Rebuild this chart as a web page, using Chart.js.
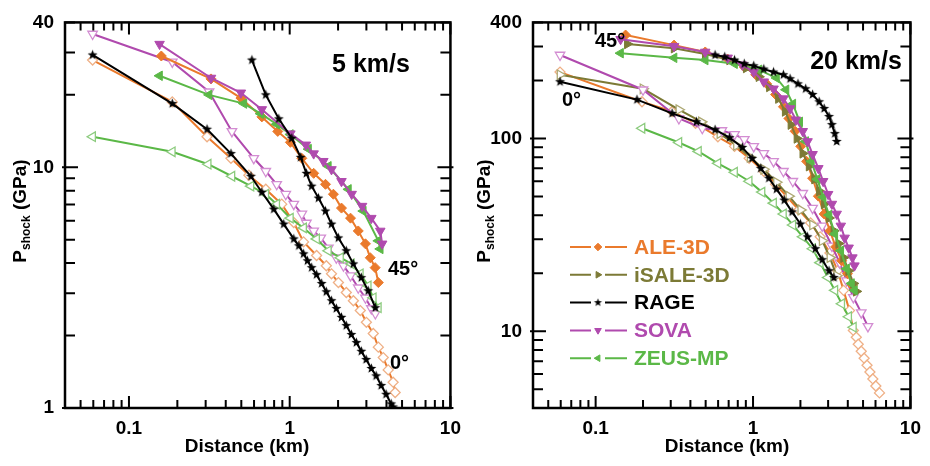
<!DOCTYPE html>
<html>
<head>
<meta charset="utf-8">
<script src="https://cdn.jsdelivr.net/npm/chart.js@4.4.1/dist/chart.umd.min.js"></script>
<style>
  html, body { margin: 0; padding: 0; background: #fff; }
  #wrap { position: relative; width: 930px; height: 466px; }
  #left { position: absolute; left: 0; top: 0; }
  #right { position: absolute; left: 470px; top: 0; }
</style>
</head>
<body>
<div id="wrap">
  <canvas id="left" width="470" height="466"></canvas>
  <canvas id="right" width="460" height="466"></canvas>
</div>
<script>
// ---- 5 km/s panel (distance km, pressure GPa) ----
const v5_ale45_x = [0.159, 0.324, 0.497, 0.671, 0.843, 1.01, 1.19, 1.41, 1.67, 1.87, 2.10, 2.39, 2.67, 2.96, 3.17, 3.40, 3.56];
const v5_ale45_y = [29.0, 23.3, 19.4, 16.2, 14.1, 12.7, 10.9, 9.44, 8.5, 7.73, 6.77, 6.15, 5.44, 4.81, 4.21, 3.83, 3.32];
const v5_rage45_x = [0.582, 0.71, 0.855, 1.03, 1.17, 1.27, 1.37, 1.51, 1.67, 1.82, 2.01, 2.25, 2.49, 2.79, 3.08, 3.41];
const v5_rage45_y = [27.9, 20.0, 15.9, 13.2, 11.0, 9.44, 8.35, 7.45, 6.58, 5.81, 5.09, 4.50, 3.97, 3.48, 3.07, 2.61];
const v5_sova45_x = [0.155, 0.324, 0.497, 0.671, 1.01, 1.26, 1.41, 1.62, 1.82, 2.10, 2.43, 2.82, 3.22, 3.66, 3.76];
const v5_sova45_y = [32.5, 23.5, 20.4, 17.4, 13.8, 12.4, 11.4, 10.6, 9.8, 8.75, 7.74, 6.9, 6.15, 5.44, 4.81];
const v5_zeus45_x = [0.155, 0.315, 0.519, 0.66, 0.83, 1.01, 1.31, 1.74, 2.32, 2.87, 3.56, 3.66];
const v5_zeus45_y = [24.0, 20.0, 18.4, 16.7, 15.1, 13.7, 11.9, 10.1, 8.1, 6.58, 4.95, 4.58];

const v5_ale0_x = [0.0594, 0.186, 0.306, 0.431, 0.557, 0.71, 0.892, 1.06, 1.22, 1.47, 1.69, 1.82, 2.01, 2.25, 2.49, 2.75, 3.0, 3.31, 3.56, 3.82, 4.10, 4.40, 4.53];
const v5_ale0_y = [27.9, 18.7, 13.4, 10.9, 9.27, 8.11, 7.03, 5.9, 4.9, 4.3, 3.9, 3.61, 3.32, 3.02, 2.79, 2.54, 2.27, 2.04, 1.79, 1.62, 1.44, 1.28, 1.16];
const v5_rage0_x = [0.0594, 0.186, 0.306, 0.431, 0.574, 0.671, 0.796, 0.918, 1.06, 1.14, 1.22, 1.29, 1.37, 1.47, 1.58, 1.69, 1.82, 1.95, 2.10, 2.25, 2.42, 2.60, 2.79, 2.99, 3.22, 3.45, 3.71, 3.98, 4.28, 4.4];
const v5_rage0_y = [29.3, 18.4, 14.4, 11.4, 9.18, 7.88, 6.7, 5.81, 5.04, 4.72, 4.37, 4.09, 3.83, 3.58, 3.29, 3.04, 2.79, 2.59, 2.38, 2.2, 2.02, 1.87, 1.72, 1.59, 1.46, 1.36, 1.24, 1.14, 1.04, 1.01];
const v5_sova0_x = [0.0594, 0.186, 0.315, 0.437, 0.598, 0.71, 0.83, 0.945, 1.06, 1.19, 1.27, 1.41, 1.56, 1.74, 1.95, 2.16, 2.39, 2.67, 2.96, 3.22, 3.41];
const v5_sova0_y = [35.8, 27.4, 20.6, 14.1, 10.9, 9.63, 8.5, 7.73, 7.03, 6.4, 5.87, 5.44, 5.09, 4.63, 4.21, 3.90, 3.55, 3.16, 2.87, 2.59, 2.47];
const v5_zeus0_x = [0.0594, 0.186, 0.311, 0.437, 0.574, 0.71, 0.83, 1.01, 1.22, 1.47, 1.74, 2.07, 2.42, 2.75, 3.08, 3.31, 3.56];
const v5_zeus0_y = [13.4, 11.6, 10.3, 9.18, 8.35, 7.73, 7.03, 6.15, 5.6, 5.04, 4.5, 4.21, 3.97, 3.61, 3.22, 2.87, 2.61];

// ---- 20 km/s panel ----
const v20_ale45_x = [0.155, 0.315, 0.497, 0.69, 0.88, 1.04, 1.22, 1.39, 1.56, 1.69, 1.85, 2.01, 2.19, 2.39, 2.60, 2.83, 3.08, 3.35, 3.66, 3.98, 4.28];
const v20_ale45_y = [344, 305, 281, 258, 235, 214, 192, 169, 146, 127, 109, 91, 76.1, 62.2, 50.2, 40.6, 33.2, 27.4, 23.2, 19.9, 17.3];
const v20_isale45_x = [0.159, 0.315, 0.497, 0.71, 0.905, 1.09, 1.27, 1.45, 1.6, 1.74, 1.90, 2.07, 2.27, 2.46, 2.64, 2.83, 3.04, 3.26, 3.50, 3.76, 4.05, 4.34, 4.53];
const v20_isale45_y = [309, 294, 274, 255, 232, 209, 185, 161, 138, 118, 100, 83.7, 71.8, 61.5, 53.3, 45.7, 38.7, 33.2, 28.5, 24.1, 20.6, 17.7, 16.1];
const v20_rage45_x = [0.574, 0.661, 0.763, 0.88, 1.01, 1.17, 1.35, 1.56, 1.72, 1.93, 2.16, 2.39, 2.63, 2.83, 3.04, 3.17, 3.31, 3.40];
const v20_rage45_y = [271, 265, 255, 244, 238, 229, 221, 214, 204, 192, 181, 169, 155, 143, 130, 118, 106, 96.5];
const v20_sova45_x = [0.144, 0.315, 0.497, 0.69, 0.855, 1.01, 1.17, 1.35, 1.56, 1.72, 1.87, 2.07, 2.22, 2.39, 2.60, 2.79, 3.00, 3.17, 3.40, 3.61, 3.82, 4.05, 4.28, 4.41];
const v20_sova45_y = [327, 301, 281, 262, 241, 221, 197, 181, 161, 143, 125, 109, 96.5, 82.8, 70.0, 60.0, 51.4, 45.7, 40.6, 35.2, 30.5, 27.1, 24.1, 21.9];
const v20_zeus45_x = [0.144, 0.315, 0.497, 0.763, 1.09, 1.41, 1.62, 1.79, 1.98, 2.16, 2.35, 2.56, 2.79, 3.04, 3.31, 3.61, 3.93, 4.22, 4.41];
const v20_zeus45_y = [277, 262, 255, 244, 227, 206, 179, 151, 122, 96.5, 76.1, 61.5, 49.6, 40.1, 32.0, 26.2, 21.1, 17.7, 16.3];

const v20_ale0_x = [0.0594, 0.197, 0.306, 0.431, 0.598, 0.763, 0.945, 1.17, 1.39, 1.65, 1.95, 2.32, 2.67, 3.08, 3.45, 3.76, 4.1, 4.34, 4.53, 4.66, 4.87, 5.08, 5.30, 5.53, 5.77, 6.03, 6.36];
const v20_ale0_y = [221, 155, 138, 120, 102, 91, 78.9, 67.6, 57.9, 49.6, 42.6, 36.5, 30.9, 25.5, 20.6, 16.3, 12.8, 10.1, 9.31, 8.57, 7.88, 7.25, 6.67, 6.15, 5.66, 5.2, 4.79];
const v20_isale0_x = [0.0594, 0.2, 0.338, 0.47, 0.616, 0.785, 0.958, 1.17, 1.41, 1.69, 2.01, 2.39, 2.75, 3.08, 3.40];
const v20_isale0_y = [214, 181, 141, 122, 106, 92, 79.8, 69.2, 59.3, 50.2, 42.6, 35.6, 29.5, 24.1, 19.4];
const v20_rage0_x = [0.0594, 0.183, 0.306, 0.437, 0.574, 0.71, 0.855, 0.986, 1.12, 1.26, 1.41, 1.58, 1.77, 2.0, 2.22, 2.49, 2.75, 3.04, 3.26];
const v20_rage0_y = [197, 159, 135, 122, 111, 101, 89.9, 78.9, 70, 62.2, 54.6, 47.9, 41.6, 36.0, 30.9, 26.8, 23.5, 20.6, 19.0];
const v20_sova0_x = [0.0594, 0.2, 0.338, 0.476, 0.634, 0.763, 0.88, 1.01, 1.17, 1.35, 1.56, 1.79, 2.07, 2.39, 2.75, 3.17, 3.55, 3.93, 4.34, 4.87, 5.37];
const v20_sova0_y = [271, 179, 127, 113, 110, 105, 98.9, 91, 83.7, 76.1, 67.6, 60, 52.0, 43.5, 35.2, 27.7, 22.7, 18.3, 15.0, 12.5, 10.6];
const v20_zeus0_x = [0.197, 0.338, 0.45, 0.598, 0.763, 0.945, 1.14, 1.35, 1.56, 1.79, 2.07, 2.39, 2.67, 2.99, 3.31, 3.66, 4.05, 4.34];
const v20_zeus0_y = [113, 95.3, 85.7, 74.3, 66.8, 60, 52.7, 46.2, 40.6, 35.6, 30.9, 26.8, 22.7, 19.0, 16.3, 13.9, 11.9, 10.5];

// axis labels
const xTickLabels = [0.1, 1, 10];
const yTickLabels5 = [1, 10, 40];
const yTickLabels20 = [10, 100, 400];
const codeNames = ['ALE-3D', 'iSALE-3D', 'RAGE', 'SOVA', 'ZEUS-MP'];

// ---- styles ----
const FONT = '"Liberation Sans", Arial, Helvetica, sans-serif';
const ORANGE = '#EA7A2C', ORANGE_LT = '#EFB086';
const OLIVE = '#7C7A36', OLIVE_LT = '#ADA974';
const MAGENTA = '#B04AAE', MAGENTA_LT = '#D38DD2';
const GREEN = '#5BB847', GREEN_LT = '#8CCB7E';
const BLACK = '#000';

Chart.defaults.font.family = FONT;
Chart.defaults.animation = false;

// 5-point star marker (RAGE)
function starImage(r) {
    const s = Math.ceil(r * 2 + 2);
    const c = document.createElement('canvas');
    c.width = s; c.height = s;
    const g = c.getContext('2d');
    g.fillStyle = BLACK;
    g.beginPath();
    for (let i = 0; i < 10; i++) {
        const a = -Math.PI / 2 + i * Math.PI / 5;
        const rr = i % 2 ? r * 0.42 : r;
        g.lineTo(s / 2 + rr * Math.cos(a), s / 2 + rr * Math.sin(a));
    }
    g.closePath();
    g.fill();
    return c;
}
const STAR = starImage(5.2);
const STAR_SMALL = starImage(4.2);

const MARK = {
    ale: { pointStyle: 'rectRot', pointRotation: 0, pointRadius: 5 },
    isale: { pointStyle: 'triangle', pointRotation: 90, pointRadius: 5.5 },
    rage: { pointStyle: STAR, pointRotation: 0, pointRadius: 5 },
    sova: { pointStyle: 'triangle', pointRotation: 180, pointRadius: 5.5 },
    zeus: { pointStyle: 'triangle', pointRotation: 270, pointRadius: 5.5 }
};

function series(xs, ys, mark, color, light) {
    const hollow = !!light;
    return Object.assign({
        data: xs.map((x, i) => ({ x: x, y: ys[i] })),
        showLine: true,
        tension: 0,
        borderWidth: 2,
        borderColor: color,
        pointBackgroundColor: hollow ? '#fff' : color,
        pointBorderColor: hollow ? light : color,
        pointBorderWidth: hollow ? 1.3 : 1
    }, MARK[mark]);
}

function tickValues(min, max) {
    const out = [];
    for (let e = Math.floor(Math.log10(min)); e <= Math.ceil(Math.log10(max)); e++) {
        for (let m = 1; m <= 9; m++) {
            const v = Number((m * Math.pow(10, e)).toPrecision(6));
            if (v >= min * 0.999 && v <= max * 1.001) out.push({ v: v, major: m === 1 });
        }
    }
    return out;
}

function pickLabel(list) {
    return (v) => {
        const hit = list.find(t => Math.abs(t - v) < t * 1e-6);
        return hit === undefined ? '' : String(hit);
    };
}

// frame, inward ticks, titles, annotations, legend
const decor = {
    id: 'decor',
    afterDraw(chart, args, o) {
        const { ctx, chartArea: a, scales: { x, y } } = chart;
        ctx.save();
        ctx.strokeStyle = BLACK;
        ctx.lineWidth = 2;
        ctx.beginPath();
        tickValues(x.min, x.max).forEach(t => {
            const px = x.getPixelForValue(t.v);
            const len = t.major ? 12 : 8;
            ctx.moveTo(px, a.bottom); ctx.lineTo(px, a.bottom - len);
            ctx.moveTo(px, a.top); ctx.lineTo(px, a.top + len);
        });
        tickValues(y.min, y.max).forEach(t => {
            const py = y.getPixelForValue(t.v);
            const len = t.major ? 13 : 10;
            const out = t.major ? 3 : 0;
            ctx.moveTo(a.left - out, py); ctx.lineTo(a.left + len, py);
            ctx.moveTo(a.right + out, py); ctx.lineTo(a.right - len, py);
        });
        ctx.stroke();
        ctx.lineWidth = 2.5;
        ctx.strokeRect(a.left, a.top, a.right - a.left, a.bottom - a.top);

        ctx.fillStyle = BLACK;
        // x title
        ctx.font = 'bold 19px ' + FONT;
        ctx.textAlign = 'center';
        ctx.textBaseline = 'middle';
        ctx.fillText('Distance (km)', o.xTitleX, 447);

        // y title with subscript
        ctx.save();
        ctx.translate(o.yTitleX, 211);
        ctx.rotate(-Math.PI / 2);
        ctx.textAlign = 'left';
        ctx.textBaseline = 'alphabetic';
        const big = 'bold 19px ' + FONT, small = 'bold 12px ' + FONT;
        ctx.font = big; const wP = ctx.measureText('P').width; const wG = ctx.measureText(' (GPa)').width;
        ctx.font = small; const wS = ctx.measureText('shock').width;
        let sx = -(wP + wS + wG) / 2;
        ctx.font = big; ctx.fillText('P', sx, 7);
        ctx.font = small; ctx.fillText('shock', sx + wP, 11);
        ctx.font = big; ctx.fillText(' (GPa)', sx + wP + wS, 7);
        ctx.restore();

        // speed label
        ctx.font = 'bold 25px ' + FONT;
        ctx.textAlign = 'center';
        ctx.textBaseline = 'middle';
        ctx.fillText(o.speed, o.speedX, o.speedY);

        // impact angle labels
        ctx.font = 'bold 20px ' + FONT;
        ctx.textAlign = 'left';
        o.angles.forEach(l => ctx.fillText(l.text, l.x, l.y));

        // legend
        if (o.legend) {
            const rows = [
                { color: ORANGE, mark: MARK.ale },
                { color: OLIVE, mark: MARK.isale },
                { color: BLACK, mark: MARK.rage },
                { color: MAGENTA, mark: MARK.sova },
                { color: GREEN, mark: MARK.zeus }
            ];
            rows.forEach((r, i) => {
                const ly = 247 + i * 27.8;
                ctx.strokeStyle = r.color;
                ctx.lineWidth = 2;
                ctx.beginPath();
                ctx.moveTo(100, ly); ctx.lineTo(121, ly);
                ctx.moveTo(135, ly); ctx.lineTo(157, ly);
                ctx.stroke();
                ctx.fillStyle = r.color;
                ctx.lineWidth = 1;
                if (r.mark.pointStyle === STAR) {
                    ctx.drawImage(STAR_SMALL, 128 - STAR_SMALL.width / 2, ly - STAR_SMALL.height / 2);
                } else {
                    Chart.helpers.drawPoint(ctx, {
                        pointStyle: r.mark.pointStyle,
                        rotation: r.mark.pointRotation,
                        radius: 3.8,
                        borderWidth: 1
                    }, 128, ly);
                }
                ctx.font = 'bold 21px ' + FONT;
                ctx.textBaseline = 'middle';
                ctx.fillText(codeNames[i], 164, ly + 1);
            });
        }
        ctx.restore();
    }
};

function makeChart(id, datasets, yMin, yMax, yLabels, rightPad, decorOpts) {
    return new Chart(document.getElementById(id), {
        type: 'scatter',
        data: { datasets: datasets },
        options: {
            responsive: false,
            animation: false,
            layout: { padding: { left: 0, right: rightPad, top: 20, bottom: 0 } },
            plugins: { legend: { display: false }, tooltip: { enabled: false }, decor: decorOpts },
            scales: {
                x: {
                    type: 'logarithmic', min: 0.04, max: 10,
                    grid: { display: false, drawTicks: false }, border: { display: false },
                    ticks: {
                        autoSkip: false, maxRotation: 0, padding: 9, color: BLACK,
                        font: { size: 19, weight: 'bold' }, callback: pickLabel(xTickLabels)
                    },
                    afterFit: s => { s.height = 58; }
                },
                y: {
                    type: 'logarithmic', min: yMin, max: yMax,
                    grid: { display: false, drawTicks: false }, border: { display: false },
                    ticks: {
                        autoSkip: false, padding: 11, color: BLACK,
                        font: { size: 19, weight: 'bold' }, callback: pickLabel(yLabels)
                    },
                    afterFit: s => { s.width = decorOpts.axisLeft; }
                }
            }
        },
        plugins: [decor]
    });
}

makeChart('left', [
    series(v5_rage45_x, v5_rage45_y, 'rage', BLACK),
    series(v5_sova45_x, v5_sova45_y, 'sova', MAGENTA),
    series(v5_zeus45_x, v5_zeus45_y, 'zeus', GREEN),
    series(v5_ale45_x, v5_ale45_y, 'ale', ORANGE),
    series(v5_rage0_x, v5_rage0_y, 'rage', BLACK),
    series(v5_zeus0_x, v5_zeus0_y, 'zeus', GREEN, GREEN_LT),
    series(v5_sova0_x, v5_sova0_y, 'sova', MAGENTA, MAGENTA_LT),
    series(v5_ale0_x, v5_ale0_y, 'ale', ORANGE, ORANGE_LT)
], 1, 40, yTickLabels5, 17, {
    axisLeft: 65, xTitleX: 247, yTitleX: 19,
    speed: '5 km/s', speedX: 371, speedY: 65,
    angles: [{ text: '45°', x: 388, y: 269 }, { text: '0°', x: 390, y: 363 }],
    legend: false
});

makeChart('right', [
    series(v20_rage45_x, v20_rage45_y, 'rage', BLACK),
    series(v20_sova45_x, v20_sova45_y, 'sova', MAGENTA),
    series(v20_zeus45_x, v20_zeus45_y, 'zeus', GREEN),
    series(v20_isale45_x, v20_isale45_y, 'isale', OLIVE),
    series(v20_ale45_x, v20_ale45_y, 'ale', ORANGE),
    series(v20_rage0_x, v20_rage0_y, 'rage', BLACK),
    series(v20_sova0_x, v20_sova0_y, 'sova', MAGENTA, MAGENTA_LT),
    series(v20_zeus0_x, v20_zeus0_y, 'zeus', GREEN, GREEN_LT),
    series(v20_isale0_x, v20_isale0_y, 'isale', OLIVE, OLIVE_LT),
    series(v20_ale0_x, v20_ale0_y, 'ale', ORANGE, ORANGE_LT)
], 4, 400, yTickLabels20, 9, {
    axisLeft: 63, xTitleX: 257, yTitleX: 13,
    speed: '20 km/s', speedX: 386, speedY: 62,
    angles: [{ text: '45°', x: 125, y: 41 }, { text: '0°', x: 92, y: 100 }],
    legend: true
});
</script>
</body>
</html>
